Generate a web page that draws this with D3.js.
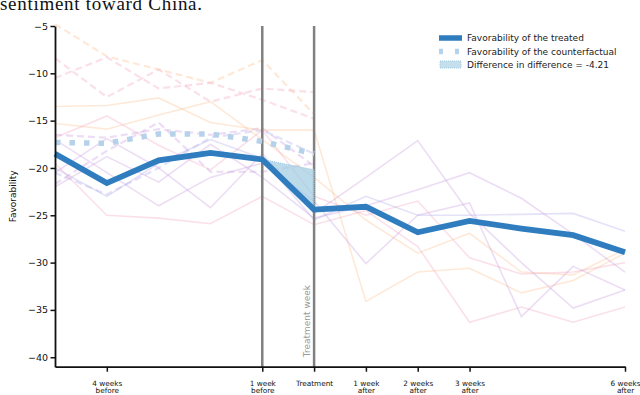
<!DOCTYPE html>
<html>
<head>
<meta charset="utf-8">
<script src="https://cdn.jsdelivr.net/npm/d3@7"></script>
<style>
  body { margin: 0; background: #fff; }
  svg { display: block; }
</style>
</head>
<body>
<div id="chart"></div>
<script>
// weeks relative to treatment
const weeks = [-5, -4, -3, -2, -1, 0, 1, 2, 3, 4, 5, 6];
const preWeeks = [-5, -4, -3, -2, -1, 0];

const treated = [-18.5, -21.6, -19.2, -18.4, -19.1, -24.4, -24.1, -26.8, -25.6, -26.4, -27.1, -28.9];
const counterfactual = [-17.3, -17.4, -16.4, -16.4, -17.2, -18.5];
const did = -4.21;

const tickWeeks = [-4, -1, 0, 1, 2, 3, 6];
const tickLabels = [["4 weeks", "before"], ["1 week", "before"], ["Treatment"], ["1 week", "after"],
                    ["2 weeks", "after"], ["3 weeks", "after"], ["6 weeks", "after"]];
const yTicks = [-5, -10, -15, -20, -25, -30, -35, -40];

// donor units, dashed = pre period only
const donorDashed = [
  {c: "#fdbf8f", v: [-4.8, -8.2, -9.6, -11.0, -8.6, -14.3]},
  {c: "#f3a6c0", v: [-8.4, -12.5, -9.6, -13.0, -11.6, -12.0]},
  {c: "#f3a6c0", v: [-10.5, -8.3, -11.6, -11.0, -12.8, -14.8]},
  {c: "#c99ee0", v: [-16.5, -16.8, -15.9, -16.5, -15.8, -19.8]},
  {c: "#c99ee0", v: [-21.7, -18.2, -15.2, -20.4, -20.4, -19.5]},
  {c: "#b0acea", v: [-20.5, -22.8, -20.0, -16.8, -16.0, -18.5]}
];
const donorSolid = [
  {c: "#fdbf8f", v: [-13.5, -13.4, -12.6, -15.2, -16.0, -16.0, -34.1, -31.0, -30.6, -33.2, -31.9, -29.0]},
  {c: "#fdbf8f", v: [-15.3, -15.9, -14.4, -13.0, -17.0, -21.0, -25.5, -29.0, -26.9, -31.0, -31.3, -28.6]},
  {c: "#f3a6c0", v: [-19.5, -25.0, -25.3, -25.9, -23.0, -26.0, -24.5, -28.3, -36.3, -34.7, -36.3, -34.7]},
  {c: "#f3a6c0", v: [-16.8, -14.5, -17.6, -20.2, -16.0, -23.0, -25.0, -23.5, -29.5, -31.2, -31.0, -30.0]},
  {c: "#c99ee0", v: [-17.0, -20.5, -24.0, -21.0, -19.5, -23.5, -30.1, -25.0, -23.7, -35.7, -30.4, -32.9]},
  {c: "#c99ee0", v: [-20.5, -16.9, -20.0, -24.2, -18.5, -24.8, -21.0, -17.1, -24.8, -30.0, -34.8, -32.9]},
  {c: "#b0acea", v: [-20.0, -23.0, -19.5, -17.0, -19.0, -25.5, -23.0, -25.0, -25.0, -24.9, -24.8, -26.7]},
  {c: "#c99ee0", v: [-22.0, -18.8, -21.5, -17.5, -21.0, -25.3, -24.0, -22.3, -20.5, -23.2, -27.0, -31.0]}
];

const width = 640, height = 395;
const margin = {top: 26, right: 15, bottom: 28.3, left: 55};

const svg = d3.select("#chart")
  .append("svg")
  .attr("width", width)
  .attr("height", height);

const x = d3.scaleLinear()
  .domain([-5, 6])
  .range([margin.left, 625]);

const y = d3.scaleLinear()
  .domain([-41, -5])
  .range([height - margin.bottom, margin.top]);

// caption from the page above, cut by the top edge as in the original
svg.append("text")
  .attr("x", 0)
  .attr("y", 10)
  .attr("font-family", "Liberation Serif, serif")
  .attr("font-size", 19)
  .attr("textLength", 202)
  .attr("fill", "#111")
  .text("sentiment toward China.");

const line = d3.line()
  .x(d => x(d[0]))
  .y(d => y(d[1]));

// donor lines
svg.append("g")
  .selectAll("path")
  .data(donorDashed)
  .enter()
  .append("path")
  .attr("d", d => line(preWeeks.map((w, i) => [w, d.v[i]])))
  .attr("fill", "none")
  .attr("stroke", d => d.c)
  .attr("stroke-width", 2.2)
  .attr("stroke-dasharray", "7,4")
  .attr("opacity", 0.35);

svg.append("g")
  .selectAll("path")
  .data(donorSolid)
  .enter()
  .append("path")
  .attr("d", d => line(weeks.map((w, i) => [w, d.v[i]])))
  .attr("fill", "none")
  .attr("stroke", d => d.c)
  .attr("stroke-width", 1.6)
  .attr("opacity", 0.35);

// treatment window lines
svg.append("g")
  .selectAll("line")
  .data([-1, 0])
  .enter()
  .append("line")
  .attr("x1", d => x(d)).attr("x2", d => x(d))
  .attr("y1", y(-5)).attr("y2", y(-41))
  .attr("stroke", "#808080")
  .attr("stroke-width", 2.5);

svg.append("text")
  .attr("transform", `translate(${x(0) - 4.5},${y(-40)}) rotate(-90)`)
  .attr("font-family", "DejaVu Sans, sans-serif")
  .attr("font-size", 9)
  .attr("fill", "#999")
  .text("Treatment week");

// difference in difference area
const iPre = weeks.indexOf(-1), iT = weeks.indexOf(0);
const didPts = [[-1, treated[iPre]], [0, treated[iT] - did], [0, treated[iT]]];
svg.append("path")
  .attr("d", line(didPts) + "Z")
  .attr("fill", "#9ecae1")
  .attr("fill-opacity", 0.7)
  .attr("stroke", "#9ecae1")
  .attr("stroke-width", 1)
  .attr("stroke-dasharray", "1,1");

// counterfactual
svg.append("path")
  .attr("d", line(preWeeks.map((w, i) => [w, counterfactual[i]])))
  .attr("fill", "none")
  .attr("stroke", "#b5d2ea")
  .attr("stroke-width", 5.5)
  .attr("stroke-dasharray", "5.5,9");

// treated
svg.append("path")
  .attr("d", line(weeks.map((w, i) => [w, treated[i]])))
  .attr("fill", "none")
  .attr("stroke", "#2f7dbf")
  .attr("stroke-width", 5.8);

// axes
const yAxis = svg.append("g")
  .attr("transform", `translate(${margin.left},0)`)
  .call(d3.axisLeft(y).tickValues(yTicks).tickSize(4.5).tickPadding(2.5).tickSizeOuter(0));
yAxis.selectAll("text")
  .attr("font-family", "DejaVu Sans, sans-serif")
  .attr("font-size", 9.5)
  .attr("fill", "#111");
yAxis.select(".domain").attr("stroke", "#111").attr("stroke-width", 1.8);
yAxis.selectAll(".tick line").attr("stroke", "#111").attr("stroke-width", 1.5);

const xAxis = svg.append("g")
  .attr("transform", `translate(0,${y(-41)})`)
  .call(d3.axisBottom(x).tickValues(tickWeeks).tickSize(5).tickSizeOuter(0).tickFormat(""));
xAxis.select(".domain").attr("stroke", "#111").attr("stroke-width", 1.8);
xAxis.selectAll(".tick line").attr("stroke", "#111").attr("stroke-width", 1.5);
xAxis.selectAll(".tick")
  .each(function(d, i) {
    const t = d3.select(this).append("text")
      .attr("fill", "#111")
      .attr("font-family", "DejaVu Sans, sans-serif")
      .attr("font-size", 7.3)
      .attr("text-anchor", "middle");
    tickLabels[i].forEach((s, j) => {
      t.append("tspan").attr("x", 0).attr("y", 19 + j * 7.6).text(s);
    });
  });

svg.append("text")
  .attr("transform", `translate(16,${y(-23)}) rotate(-90)`)
  .attr("text-anchor", "middle")
  .attr("font-family", "DejaVu Sans, sans-serif")
  .attr("font-size", 9)
  .attr("fill", "#111")
  .text("Favorability");

// legend
const legend = svg.append("g").attr("transform", "translate(439,0)");
legend.append("line")
  .attr("x1", 0).attr("x2", 23).attr("y1", 38).attr("y2", 38)
  .attr("stroke", "#2f7dbf").attr("stroke-width", 5.5);
legend.append("line")
  .attr("x1", 0).attr("x2", 23).attr("y1", 51.5).attr("y2", 51.5)
  .attr("stroke", "#b5d2ea").attr("stroke-width", 5.5)
  .attr("stroke-dasharray", "4,12");
legend.append("rect")
  .attr("x", 1).attr("y", 61).attr("width", 21).attr("height", 7)
  .attr("fill", "#9ecae1").attr("fill-opacity", 0.6)
  .attr("stroke", "#9ecae1").attr("stroke-dasharray", "1,1");
const legendText = ["Favorability of the treated", "Favorability of the counterfactual",
                    "Difference in difference = " + did];
legend.selectAll("text.lg")
  .data(legendText)
  .enter()
  .append("text")
  .attr("class", "lg")
  .attr("x", 28)
  .attr("y", (d, i) => 41.2 + i * 13.3)
  .attr("font-family", "DejaVu Sans, sans-serif")
  .attr("font-size", 9)
  .attr("fill", "#222")
  .text(d => d);
</script>
</body>
</html>
